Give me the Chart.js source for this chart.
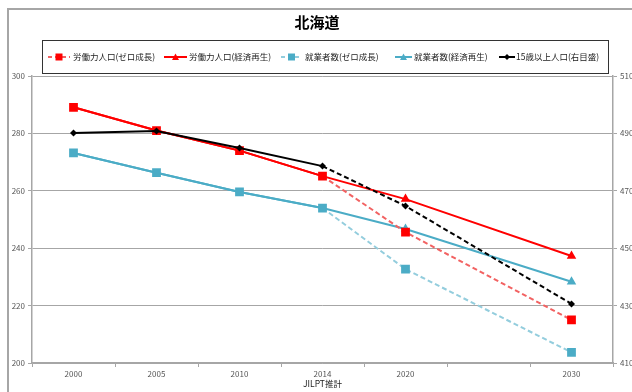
<!DOCTYPE html>
<html lang="ja">
<head>
<meta charset="utf-8">
<title>北海道</title>
<script src="https://cdn.jsdelivr.net/npm/chart.js@4/dist/chart.umd.min.js"></script>
<style>
  html, body { margin: 0; padding: 0; background: #fff; }
  #wrap { width: 632px; height: 392px; position: relative; }
</style>
</head>
<body>
<div id="wrap"><canvas id="c" width="632" height="392"></canvas></div>
<script>
// Categories (the slot between 2020 and 2030 has no label)
const years = ['2000', '2005', '2010', '2014', '2020', '', '2030'];

// Labour force and employment (left axis, 万人)
const laborZero   = [289.1, 281.0, 274.0, 265.1, 245.6, null, 215.0];
const laborRevive = [289.1, 281.0, 274.0, 265.1, 257.1, null, 237.3];
const employZero  = [273.2, 266.3, 259.6, 254.0, 232.7, null, 203.7];
const employRevive= [273.2, 266.3, 259.6, 254.0, 246.7, null, 228.3];

// Population aged 15+ (right axis, 万人)
const pop15 = [490.1, 490.8, 484.9, 478.6, 464.7, null, 430.6];

const seriesNames = ['労働力人口(ゼロ成長)', '労働力人口(経済再生)', '就業者数(ゼロ成長)', '就業者数(経済再生)', '15歳以上人口(右目盛)'];
const chartTitle = '北海道';
const xAxisTitle = 'JILPT推計';

const RED = '#ff0000', RED_LIGHT = '#f26262';
const BLUE = '#4bacc6', BLUE_LIGHT = '#93cddd';
const JP = '"Noto Sans CJK JP", "Noto Sans", sans-serif';
const FORECAST_FROM = 3; // segments after 2014 are projections

const dashAfter = (ctx) => ctx.p0DataIndex >= FORECAST_FROM ? [5, 3] : undefined;
// scenario markers only where the scenarios diverge
const scenarioRadius = (ctx) => ctx.dataIndex > FORECAST_FROM ? 5.5 : 0;

// Frame, title and boxed legend
const decor = {
  id: 'decor',
  beforeDraw(chart) {
    const c = chart.ctx;
    c.save();
    c.fillStyle = '#fff';
    c.fillRect(0, 0, chart.width, chart.height);
    c.strokeStyle = '#a6a6a6';
    c.lineWidth = 2;
    c.beginPath();
    c.moveTo(8, chart.height + 2);
    c.lineTo(8, 9);
    c.lineTo(chart.width + 2, 9);
    c.stroke();
    c.restore();
  },
  afterDraw(chart) {
    const c = chart.ctx;
    c.save();
    // title
    c.fillStyle = '#000';
    c.font = 'bold 15px ' + JP;
    c.textAlign = 'center';
    c.textBaseline = 'middle';
    c.fillText(chartTitle, 317, 22);

    // legend box
    c.strokeStyle = '#333';
    c.lineWidth = 1;
    c.strokeRect(42.5, 40.5, 566, 33);

    const y = 57;
    const items = [
      { x0: 48,  x1: 70,  tx: 73,  color: RED_LIGHT, mark: RED,  style: 'rect',    dash: [4, 3] },
      { x0: 164, x1: 187, tx: 189, color: RED,       mark: RED,  style: 'triangle', dash: [] },
      { x0: 281, x1: 302, tx: 305, color: BLUE_LIGHT, mark: BLUE, style: 'rect',    dash: [4, 3] },
      { x0: 395, x1: 412, tx: 414, color: BLUE,      mark: BLUE, style: 'triangle', dash: [] },
      { x0: 499, x1: 515, tx: 516, color: '#000',    mark: '#000', style: 'rectRot', dash: [] }
    ];
    items.forEach((it, i) => {
      c.strokeStyle = it.color;
      c.lineWidth = 2;
      c.setLineDash(it.dash);
      c.beginPath();
      c.moveTo(it.x0, y);
      c.lineTo(it.x1, y);
      c.stroke();
      c.setLineDash([]);
      const mx = (it.x0 + it.x1) / 2;
      c.fillStyle = it.mark;
      c.beginPath();
      if (it.style === 'rect') {
        c.rect(mx - 3.5, y - 3.5, 7, 7);
      } else if (it.style === 'triangle') {
        c.moveTo(mx, y - 3.5); c.lineTo(mx + 3.5, y + 3); c.lineTo(mx - 3.5, y + 3); c.closePath();
      } else {
        c.moveTo(mx, y - 3); c.lineTo(mx + 3, y); c.lineTo(mx, y + 3); c.lineTo(mx - 3, y); c.closePath();
      }
      c.fill();
      c.fillStyle = '#222';
      c.font = '8.5px ' + JP;
      c.textAlign = 'left';
      c.textBaseline = 'middle';
      c.fillText(seriesNames[i], it.tx, y);
    });
    c.restore();
  }
};

const tickFont = { family: JP, size: 8 };

new Chart(document.getElementById('c'), {
  type: 'line',
  data: {
    labels: years,
    datasets: [
      {
        label: seriesNames[0], data: laborZero, yAxisID: 'y',
        borderColor: RED, backgroundColor: RED, borderWidth: 2,
        pointStyle: 'rect', pointRadius: 6.2, pointBorderWidth: 0,
        segment: { borderDash: dashAfter, borderColor: (ctx) => ctx.p0DataIndex >= FORECAST_FROM ? RED_LIGHT : undefined },
        spanGaps: true, order: 1
      },
      {
        label: seriesNames[1], data: laborRevive, yAxisID: 'y',
        borderColor: RED, backgroundColor: RED, borderWidth: 2,
        pointStyle: 'triangle', pointRadius: scenarioRadius, pointBorderWidth: 0,
        spanGaps: true, order: 2
      },
      {
        label: seriesNames[2], data: employZero, yAxisID: 'y',
        borderColor: BLUE, backgroundColor: BLUE, borderWidth: 2,
        pointStyle: 'rect', pointRadius: 6.2, pointBorderWidth: 0,
        segment: { borderDash: dashAfter, borderColor: (ctx) => ctx.p0DataIndex >= FORECAST_FROM ? BLUE_LIGHT : undefined },
        spanGaps: true, order: 3
      },
      {
        label: seriesNames[3], data: employRevive, yAxisID: 'y',
        borderColor: BLUE, backgroundColor: BLUE, borderWidth: 2,
        pointStyle: 'triangle', pointRadius: scenarioRadius, pointBorderWidth: 0,
        spanGaps: true, order: 4
      },
      {
        label: seriesNames[4], data: pop15, yAxisID: 'y2',
        borderColor: '#000', backgroundColor: '#000', borderWidth: 2,
        pointStyle: 'rectRot', pointRadius: 3.5, pointBorderWidth: 0,
        segment: { borderDash: dashAfter },
        spanGaps: true, order: 0
      }
    ]
  },
  options: {
    responsive: false,
    animation: false,
    events: [],
    layout: { padding: { top: 76, left: 0, right: 0, bottom: 0 } },
    plugins: { legend: { display: false }, title: { display: false }, tooltip: { enabled: false } },
    scales: {
      x: {
        type: 'category',
        offset: true,
        grid: { drawOnChartArea: false, drawTicks: true, offset: true, tickLength: 4, color: '#a6a6a6' },
        border: { color: '#a6a6a6', width: 1.5 },
        ticks: { font: tickFont, color: '#555', padding: 2, maxRotation: 0, autoSkip: false },
        title: { display: true, text: xAxisTitle, font: { family: JP, size: 8.5 }, color: '#222', padding: { top: 0, bottom: 3 } },
        afterFit(s) { s.height = 29; }
      },
      y: {
        position: 'left', min: 200, max: 300,
        ticks: { stepSize: 20, font: tickFont, color: '#555', padding: 3 },
        grid: { color: '#a6a6a6', lineWidth: 1, tickLength: 4 },
        border: { color: '#a6a6a6', width: 1.5 },
        afterFit(s) { s.width = 32; }
      },
      y2: {
        position: 'right', min: 410, max: 510,
        ticks: { stepSize: 20, font: tickFont, color: '#555', padding: 3 },
        grid: { drawOnChartArea: false, color: '#a6a6a6', tickLength: 4 },
        border: { color: '#a6a6a6', width: 1.5 },
        afterFit(s) { s.width = 19; }
      }
    }
  },
  plugins: [decor]
});
</script>
</body>
</html>
